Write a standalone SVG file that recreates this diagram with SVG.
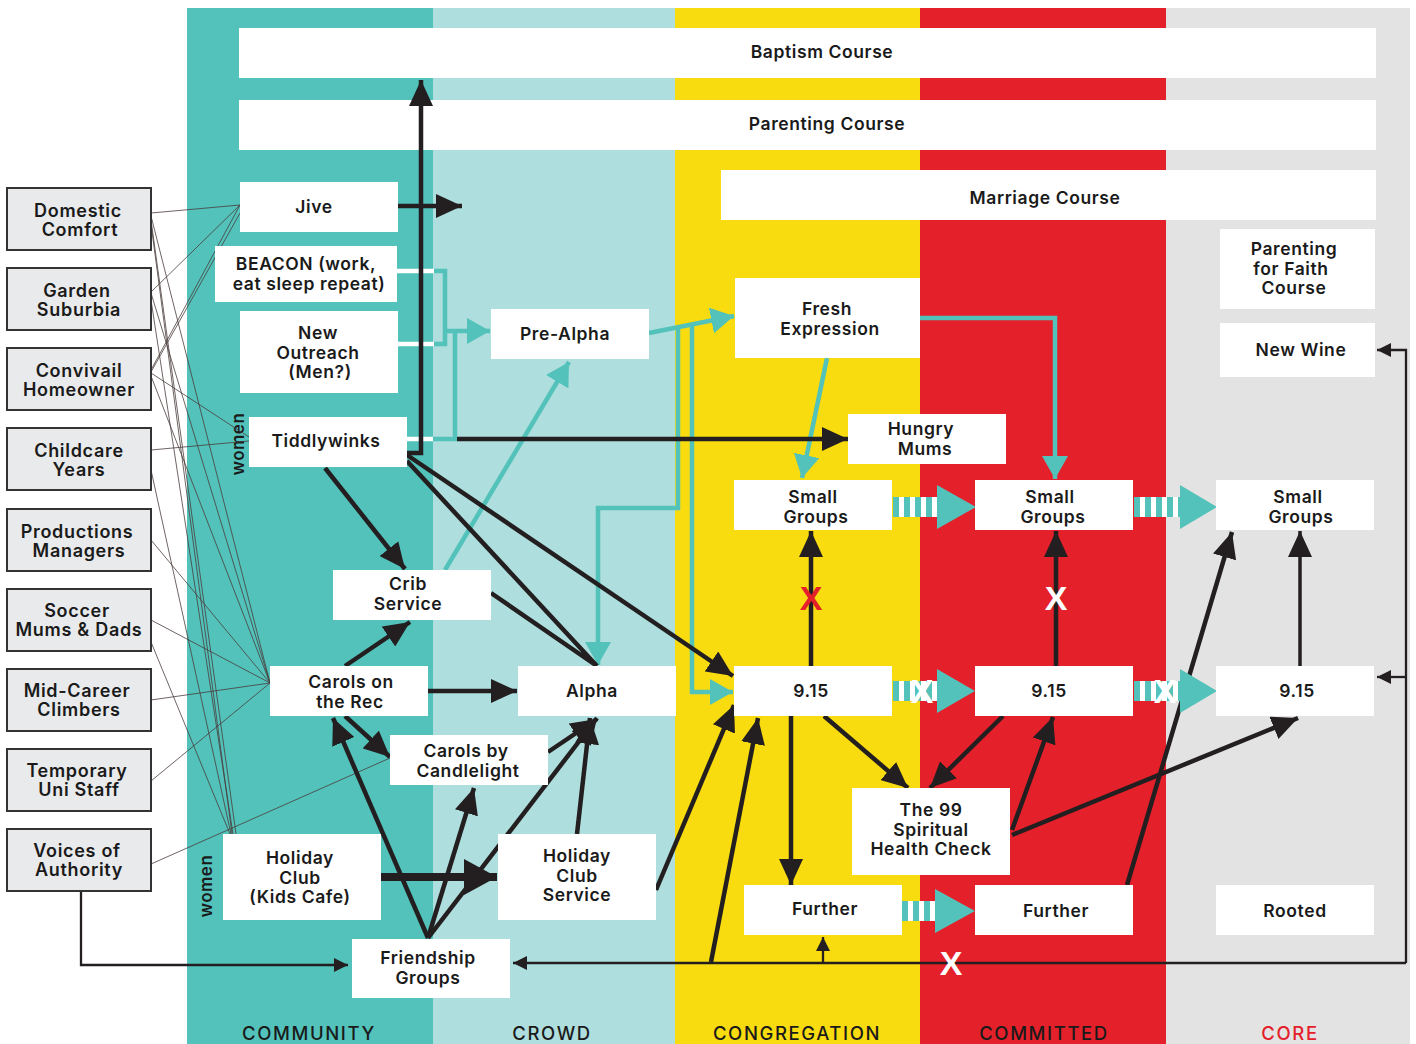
<svg xmlns="http://www.w3.org/2000/svg" width="1416" height="1044" viewBox="0 0 1416 1044">
<style>
text{font-family:Inter,"Liberation Sans",sans-serif;font-weight:600;fill:#1a1a1a;text-anchor:middle}
.n{font-size:17.5px;letter-spacing:0.6px}
.l{font-size:18px;letter-spacing:0.7px}
.col{font-size:18.5px;font-weight:500;letter-spacing:1.6px}
.wm{font-size:17px;font-weight:600;letter-spacing:0.5px}
.x{font-family:"Liberation Sans",sans-serif;font-size:34px;font-weight:700;fill:#fff}
.w{fill:#fff}
.g{fill:#E9EAEC;stroke:#333;stroke-width:2}
.k{fill:none;stroke:#231F20;stroke-width:4.5}
.t{fill:none;stroke:#231F20;stroke-width:2.3}
.f{fill:none;stroke:#4a3c3c;stroke-width:0.8}
.c{fill:none;stroke:#52C2BA;stroke-width:4.5}
.wl{fill:none;stroke:#fff;stroke-width:4.5}
.ka{marker-end:url(#ak)}
.kb{marker-end:url(#akb)}
.ta{marker-end:url(#at)}
.ca{marker-end:url(#ac)}
.st{stroke:#52C2BA;stroke-width:20;stroke-dasharray:6 5}
.tri{fill:#52C2BA}
</style>
<defs>
<marker id="ak" markerUnits="userSpaceOnUse" markerWidth="27" markerHeight="24" refX="26" refY="12" orient="auto"><path d="M0,0 L26,12 L0,24 z" fill="#231F20"/></marker>
<marker id="akb" markerUnits="userSpaceOnUse" markerWidth="34" markerHeight="36" refX="33" refY="18" orient="auto"><path d="M0,0 L33,18 L0,36 z" fill="#231F20"/></marker>
<marker id="at" markerUnits="userSpaceOnUse" markerWidth="15" markerHeight="14" refX="14" refY="7" orient="auto"><path d="M0,0 L14,7 L0,14 z" fill="#231F20"/></marker>
<marker id="ac" markerUnits="userSpaceOnUse" markerWidth="24" markerHeight="26" refX="23" refY="13" orient="auto"><path d="M0,0 L23,13 L0,26 z" fill="#52C2BA"/></marker>
</defs>

<g id="background">
<rect x="187" y="8" width="246" height="1036" fill="#52C2BA"/>
<rect x="433" y="8" width="242" height="1036" fill="#AEDEDD"/>
<rect x="675" y="8" width="245" height="1036" fill="#F9DC0F"/>
<rect x="920" y="8" width="246" height="1036" fill="#E4202A"/>
<rect x="1166" y="8" width="244" height="1036" fill="#E3E3E3"/>
<text class="col" x="309" y="1040">COMMUNITY</text>
<text class="col" x="552" y="1040">CROWD</text>
<text class="col" x="797" y="1040">CONGREGATION</text>
<text class="col" x="1044" y="1040">COMMITTED</text>
<text class="col" x="1290" y="1040" style="fill:#E4202A">CORE</text>
<text class="wm" transform="translate(244,444) rotate(-90)">women</text>
<text class="wm" transform="translate(212,886) rotate(-90)">women</text>
</g>

<g id="baptism"><rect class="w" x="239" y="28" width="1137" height="50"/><text class="n" x="822" y="58">Baptism Course</text></g>
<g id="parenting"><rect class="w" x="239" y="100" width="1137" height="50"/><text class="n" x="827" y="130">Parenting Course</text></g>

<g id="connectors">
<path class="f" d="M151,213 L240,205 M151,292 L240,205 M151,370 L240,205 M151,372 L240,213"/>
<path class="f" d="M151,373 L249,437 M151,450 L249,441"/>
<path class="f" d="M151,216 L270,683 M151,293 L270,683 M151,376 L270,683 M151,540 L270,683 M151,620 L270,683 M151,700 L270,683 M151,781 L270,683"/>
<path class="f" d="M151,220 L236,834 M151,224 L232,834 M151,300 L233,834 M151,470 L231,834 M151,642 L230,834"/>
<path class="f" d="M151,864 L390,758"/>
<path class="wl" d="M397,271 H434 M398,344 H434 M407,439 H433"/>
<path class="c" d="M434,271 H445 V344 H434"/>
<path class="c ca" d="M445,331 H490"/>
<path class="c" d="M433,439 H455 V331"/>
<path class="c ca" d="M649,333 L734,316"/>
<path class="c ca" d="M678,326 V508 H598 V665"/>
<path class="c ca" d="M692,324 V692 H733"/>
<path class="c ca" d="M827,358 L802,478"/>
<path class="c ca" d="M920,318 H1055 V479"/>
<path class="c ca" d="M445,570 L569,362"/>
<path class="k ka" d="M407,453 H421 V80"/>
<path class="k ka" d="M398,206 H462"/>
<path class="k ka" d="M457,439 H848"/>
<path class="k ka" d="M407,455 L733,676"/>
<path class="k" d="M407,461 L597,666 M491,593 L597,666"/>
<path class="k ka" d="M325,468 L405,569"/>
<path class="k ka" d="M345,666 L410,622"/>
<path class="k ka" d="M428,691 H517"/>
<path class="k ka" d="M345,716 L390,757"/>
<path class="k ka" d="M428,938 L333,718"/>
<path class="k ka" d="M428,938 L474,788"/>
<path class="k ka" d="M428,938 L597,718"/>
<path class="k ka" d="M548,752 L597,719"/>
<path class="k ka" d="M577,834 L590,718"/>
<path class="k kb" d="M381,877 H497" style="stroke-width:8"/>
<path class="k ka" d="M656,890 L734,705"/>
<path class="k ka" d="M711,962 L758,718"/>
<path class="k ka" d="M811,666 V531"/>
<path class="k ka" d="M1056,666 V531"/>
<path class="k ka" d="M1300,666 V531" style="stroke-width:3.5"/>
<path class="k ka" d="M791,716 V885"/>
<path class="k ka" d="M824,716 L908,788"/>
<path class="k ka" d="M1003,716 L930,788"/>
<path class="k ka" d="M1012,830 L1053,717"/>
<path class="k ka" d="M1012,835 L1298,718"/>
<path class="k ka" d="M1127,885 L1232,532"/>
<path class="t ta" d="M81,892 V965 H348"/>
<path class="t ta" d="M1406,963 H513"/>
<path class="t ta" d="M1406,963 V350 H1377"/>
<path class="t ta" d="M1406,677 H1377"/>
<path class="t ta" d="M823,963 V937"/>
<rect class="w" x="893" y="497" width="44" height="20"/><line class="st" x1="893" y1="507" x2="937" y2="507"/><polygon class="tri" points="937,485 976,507 937,529"/>
<rect class="w" x="1134" y="497" width="46" height="20"/><line class="st" x1="1134" y1="507" x2="1180" y2="507"/><polygon class="tri" points="1180,485 1217,507 1180,529"/>
<rect class="w" x="893" y="681" width="44" height="20"/><line class="st" x1="893" y1="691" x2="937" y2="691"/><polygon class="tri" points="937,669 975,691 937,713"/>
<rect class="w" x="1134" y="681" width="46" height="20"/><line class="st" x1="1134" y1="691" x2="1180" y2="691"/><polygon class="tri" points="1180,669 1217,691 1180,713"/>
<rect class="w" x="902" y="901" width="33" height="20"/><line class="st" x1="902" y1="911" x2="935" y2="911"/><polygon class="tri" points="935,889 975,911 935,933"/>
<text class="x" x="811" y="610" style="fill:#E4202A">X</text>
<text class="x" x="1056" y="610">X</text>
<text class="x" x="922" y="703">X</text>
<text class="x" x="1165" y="703">X</text>
<text class="x" x="951" y="975">X</text>
</g>

<g id="marriage"><rect class="w" x="721" y="170" width="655" height="50"/><text class="n" x="1045" y="204">Marriage Course</text></g>

<g id="seg-domestic"><rect class="g" x="7" y="188" width="144" height="62"/><text class="l" x="78" y="217">Domestic<tspan x="80" dy="19">Comfort</tspan></text></g>
<g id="seg-garden"><rect class="g" x="7" y="268" width="144" height="62"/><text class="l" x="77" y="297">Garden<tspan x="79" dy="19">Suburbia</tspan></text></g>
<g id="seg-convivail"><rect class="g" x="7" y="348" width="144" height="62"/><text class="l" x="79" y="377">Convivail<tspan x="79" dy="19">Homeowner</tspan></text></g>
<g id="seg-childcare"><rect class="g" x="7" y="428" width="144" height="62"/><text class="l" x="79" y="457">Childcare<tspan x="79" dy="19">Years</tspan></text></g>
<g id="seg-productions"><rect class="g" x="7" y="509" width="144" height="62"/><text class="l" x="77" y="538">Productions<tspan x="79" dy="19">Managers</tspan></text></g>
<g id="seg-soccer"><rect class="g" x="7" y="589" width="144" height="62"/><text class="l" x="77" y="617">Soccer<tspan x="79" dy="19">Mums &amp; Dads</tspan></text></g>
<g id="seg-midcareer"><rect class="g" x="7" y="669" width="144" height="62"/><text class="l" x="77" y="697">Mid-Career<tspan x="79" dy="19">Climbers</tspan></text></g>
<g id="seg-temporary"><rect class="g" x="7" y="749" width="144" height="62"/><text class="l" x="77" y="777">Temporary<tspan x="79" dy="19">Uni Staff</tspan></text></g>
<g id="seg-voices"><rect class="g" x="7" y="829" width="144" height="62"/><text class="l" x="77" y="857">Voices of<tspan x="79" dy="19">Authority</tspan></text></g>

<g id="jive"><rect class="w" x="240" y="182" width="158" height="50"/><text class="n" x="314" y="213">Jive</text></g>
<g id="beacon"><rect class="w" x="215" y="246" width="182" height="56"/><text class="n" x="306" y="270">BEACON (work,<tspan x="309" dy="20">eat sleep repeat)</tspan></text></g>
<g id="outreach"><rect class="w" x="240" y="311" width="158" height="82"/><text class="n" x="318" y="339">New<tspan x="318" dy="19.5">Outreach</tspan><tspan x="320" dy="19.5">(Men?)</tspan></text></g>
<g id="tiddlywinks"><rect class="w" x="249" y="417" width="158" height="50"/><text class="n" x="326" y="447">Tiddlywinks</text></g>
<g id="prealpha"><rect class="w" x="491" y="309" width="158" height="50"/><text class="n" x="565" y="340">Pre-Alpha</text></g>
<g id="fresh"><rect class="w" x="735" y="278" width="185" height="80"/><text class="n" x="827" y="315">Fresh<tspan x="830" dy="20">Expression</tspan></text></g>
<g id="hungry"><rect class="w" x="848" y="414" width="158" height="50"/><text class="n" x="921" y="435">Hungry<tspan x="925" dy="19.5">Mums</tspan></text></g>
<g id="sg-cong"><rect class="w" x="734" y="480" width="158" height="50"/><text class="n" x="813" y="503">Small<tspan x="816" dy="19.5">Groups</tspan></text></g>
<g id="sg-comm"><rect class="w" x="975" y="480" width="158" height="50"/><text class="n" x="1050" y="503">Small<tspan x="1053" dy="19.5">Groups</tspan></text></g>
<g id="sg-core"><rect class="w" x="1216" y="480" width="158" height="50"/><text class="n" x="1298" y="503">Small<tspan x="1301" dy="19.5">Groups</tspan></text></g>
<g id="pff"><rect class="w" x="1220" y="229" width="155" height="80"/><text class="n" x="1294" y="255">Parenting<tspan x="1291" dy="19.5">for Faith</tspan><tspan x="1294" dy="19.5">Course</tspan></text></g>
<g id="newwine"><rect class="w" x="1220" y="323" width="155" height="54"/><text class="n" x="1301" y="356">New Wine</text></g>
<g id="crib"><rect class="w" x="333" y="570" width="158" height="50"/><text class="n" x="408" y="590">Crib<tspan x="408" dy="19.5">Service</tspan></text></g>
<g id="carols-rec"><rect class="w" x="270" y="666" width="158" height="50"/><text class="n" x="351" y="688">Carols on<tspan x="350" dy="19.5">the Rec</tspan></text></g>
<g id="alpha"><rect class="w" x="518" y="666" width="158" height="50"/><text class="n" x="592" y="697">Alpha</text></g>
<g id="s915-cong"><rect class="w" x="734" y="666" width="158" height="50"/><text class="n" x="811" y="697">9.15</text></g>
<g id="s915-comm"><rect class="w" x="975" y="666" width="158" height="50"/><text class="n" x="1049" y="697">9.15</text></g>
<g id="s915-core"><rect class="w" x="1216" y="666" width="158" height="50"/><text class="n" x="1297" y="697">9.15</text></g>
<g id="candlelight"><rect class="w" x="390" y="735" width="158" height="50"/><text class="n" x="466" y="757">Carols by<tspan x="468" dy="19.5">Candlelight</tspan></text></g>
<g id="the99"><rect class="w" x="852" y="788" width="158" height="87"/><text class="n" x="931" y="816">The 99<tspan x="931" dy="19.5">Spiritual</tspan><tspan x="931" dy="19.5">Health Check</tspan></text></g>
<g id="hc-kids"><rect class="w" x="223" y="834" width="158" height="86"/><text class="n" x="300" y="864">Holiday<tspan x="300" dy="19.5">Club</tspan><tspan x="300" dy="19.5">(Kids Cafe)</tspan></text></g>
<g id="hc-service"><rect class="w" x="498" y="834" width="158" height="86"/><text class="n" x="577" y="862">Holiday<tspan x="577" dy="19.5">Club</tspan><tspan x="577" dy="19.5">Service</tspan></text></g>
<g id="further-cong"><rect class="w" x="744" y="885" width="158" height="50"/><text class="n" x="825" y="915">Further</text></g>
<g id="further-comm"><rect class="w" x="975" y="885" width="158" height="50"/><text class="n" x="1056" y="917">Further</text></g>
<g id="rooted"><rect class="w" x="1216" y="885" width="158" height="50"/><text class="n" x="1295" y="917">Rooted</text></g>
<g id="friendship"><rect class="w" x="352" y="939" width="158" height="59"/><text class="n" x="428" y="964">Friendship<tspan x="428" dy="19.5">Groups</tspan></text></g>
</svg>
